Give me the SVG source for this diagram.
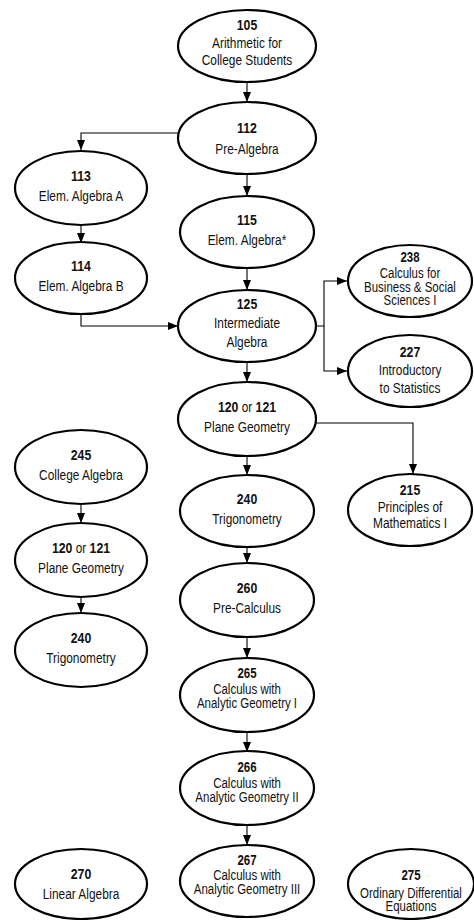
<svg xmlns="http://www.w3.org/2000/svg" width="474" height="920" viewBox="0 0 474 920">
<defs>
<marker id="ah" viewBox="0 0 10 8" refX="10" refY="4" markerWidth="10" markerHeight="8" markerUnits="userSpaceOnUse" orient="auto">
<path d="M0,0 L10,4 L0,8 Z" fill="#000"/>
</marker>
<style>
.n ellipse{fill:#fff;stroke:#000;stroke-width:2.2}
text{font-family:"Liberation Sans",Arial,sans-serif;font-size:14.5px;text-anchor:middle;fill:#111}
.t text{font-size:14px}
.b{font-weight:bold;font-size:15px}
.c path{fill:none;stroke:#000;stroke-width:1.1;marker-end:url(#ah)}
</style>
</defs>
<rect width="474" height="920" fill="#fff"/>
<g class="c" id="connectors">
<path d="M247,82 V102"/>
<path d="M247,175 V196"/>
<path d="M247,268 V290"/>
<path d="M247,362 V382"/>
<path d="M247,456 V475"/>
<path d="M247,547 V563"/>
<path d="M247,637 V658"/>
<path d="M247,732 V752"/>
<path d="M247,825 V845"/>
<path d="M178,133 H81 V150"/>
<path d="M81,225 V243"/>
<path d="M81,314 V326 H178"/>
<path d="M316,326 H324 V281 H347"/>
<path d="M324,326 V371 H347"/>
<path d="M316,423 H413 V474"/>
<path d="M81,504 V523"/>
<path d="M81,597 V613"/>
</g>
<g class="n" id="n105"><ellipse cx="247" cy="46" rx="69" ry="36"/><g transform="translate(247 0) scale(0.82 1)"><text x="0" y="30" class="b">105</text><text x="0" y="48">Arithmetic for</text><text x="0" y="65">College Students</text></g></g>
<g class="n" id="n112"><ellipse cx="247" cy="138" rx="69" ry="36"/><g transform="translate(247 0) scale(0.82 1)"><text x="0" y="133" class="b">112</text><text x="0" y="154">Pre-Algebra</text></g></g>
<g class="n" id="n113"><ellipse cx="81" cy="188" rx="66" ry="37"/><g transform="translate(81 0) scale(0.82 1)"><text x="0" y="181" class="b">113</text><text x="0" y="201">Elem. Algebra A</text></g></g>
<g class="n" id="n115"><ellipse cx="247" cy="232" rx="67" ry="36"/><g transform="translate(247 0) scale(0.82 1)"><text x="0" y="225" class="b">115</text><text x="0" y="245">Elem. Algebra*</text></g></g>
<g class="n" id="n114"><ellipse cx="81" cy="278" rx="66" ry="36"/><g transform="translate(81 0) scale(0.82 1)"><text x="0" y="271" class="b">114</text><text x="0" y="291">Elem. Algebra B</text></g></g>
<g class="n" id="n238"><ellipse cx="410" cy="281" rx="62" ry="36"/><g class="t" transform="translate(410 0) scale(0.82 1)"><text x="0" y="262" class="b">238</text><text x="0" y="278">Calculus for</text><text x="0" y="292">Business &amp; Social</text><text x="0" y="305">Sciences I</text></g></g>
<g class="n" id="n125"><ellipse cx="247" cy="326" rx="69" ry="36"/><g transform="translate(247 0) scale(0.82 1)"><text x="0" y="309" class="b">125</text><text x="0" y="328">Intermediate</text><text x="0" y="347">Algebra</text></g></g>
<g class="n" id="n227"><ellipse cx="410" cy="371" rx="62" ry="36"/><g transform="translate(410 0) scale(0.82 1)"><text x="0" y="357" class="b">227</text><text x="0" y="375">Introductory</text><text x="0" y="393">to Statistics</text></g></g>
<g class="n" id="n120"><ellipse cx="247" cy="419" rx="69" ry="37"/><g transform="translate(247 0) scale(0.82 1)"><text x="0" y="412"><tspan class="b">120</tspan> or <tspan class="b">121</tspan></text><text x="0" y="432">Plane Geometry</text></g></g>
<g class="n" id="n245"><ellipse cx="81" cy="467" rx="66" ry="37"/><g transform="translate(81 0) scale(0.82 1)"><text x="0" y="460" class="b">245</text><text x="0" y="480">College Algebra</text></g></g>
<g class="n" id="n215"><ellipse cx="410" cy="510" rx="62" ry="36"/><g transform="translate(410 0) scale(0.82 1)"><text x="0" y="495" class="b">215</text><text x="0" y="512">Principles of</text><text x="0" y="528">Mathematics I</text></g></g>
<g class="n" id="n240"><ellipse cx="247" cy="511" rx="67" ry="36"/><g transform="translate(247 0) scale(0.82 1)"><text x="0" y="504" class="b">240</text><text x="0" y="524">Trigonometry</text></g></g>
<g class="n" id="n120b"><ellipse cx="81" cy="560" rx="66" ry="37"/><g transform="translate(81 0) scale(0.82 1)"><text x="0" y="553"><tspan class="b">120</tspan> or <tspan class="b">121</tspan></text><text x="0" y="573">Plane Geometry</text></g></g>
<g class="n" id="n260"><ellipse cx="247" cy="600" rx="67" ry="37"/><g transform="translate(247 0) scale(0.82 1)"><text x="0" y="593" class="b">260</text><text x="0" y="613">Pre-Calculus</text></g></g>
<g class="n" id="n240b"><ellipse cx="81" cy="650" rx="66" ry="37"/><g transform="translate(81 0) scale(0.82 1)"><text x="0" y="643" class="b">240</text><text x="0" y="663">Trigonometry</text></g></g>
<g class="n" id="n265"><ellipse cx="247" cy="695" rx="67" ry="37"/><g class="t" transform="translate(247 0) scale(0.82 1)"><text x="0" y="678" class="b">265</text><text x="0" y="694">Calculus with</text><text x="0" y="708">Analytic Geometry I</text></g></g>
<g class="n" id="n266"><ellipse cx="247" cy="788" rx="67" ry="37"/><g class="t" transform="translate(247 0) scale(0.82 1)"><text x="0" y="772" class="b">266</text><text x="0" y="788">Calculus with</text><text x="0" y="802">Analytic Geometry II</text></g></g>
<g class="n" id="n270"><ellipse cx="81" cy="884" rx="66" ry="35"/><g transform="translate(81 0) scale(0.82 1)"><text x="0" y="879" class="b">270</text><text x="0" y="899">Linear Algebra</text></g></g>
<g class="n" id="n267"><ellipse cx="247" cy="881" rx="67" ry="36"/><g class="t" transform="translate(247 0) scale(0.82 1)"><text x="0" y="865" class="b">267</text><text x="0" y="880">Calculus with</text><text x="0" y="894">Analytic Geometry III</text></g></g>
<g class="n" id="n275"><ellipse cx="411" cy="884" rx="63" ry="35"/><g class="t" transform="translate(411 0) scale(0.82 1)"><text x="0" y="880" class="b">275</text><text x="0" y="898">Ordinary Differential</text><text x="0" y="911">Equations</text></g></g>
</svg>
